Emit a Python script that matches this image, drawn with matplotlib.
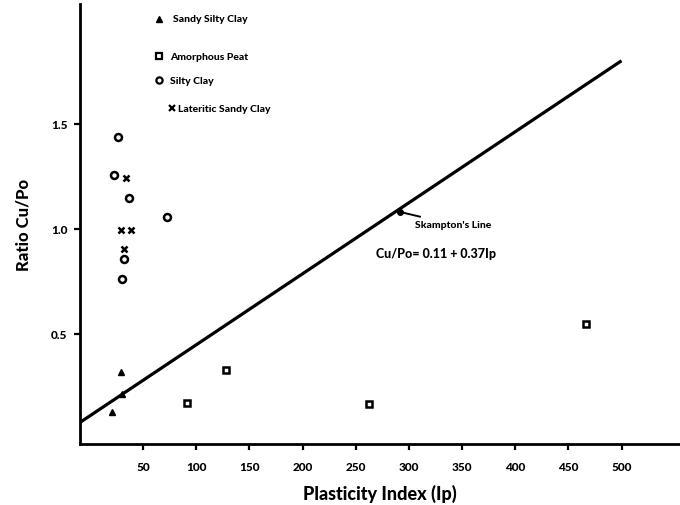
import matplotlib
matplotlib.use("Agg")
import matplotlib.pyplot as plt

plt.rcParams['font.family'] = ['Lato', 'DejaVu Sans']
plt.rcParams['font.weight'] = 'heavy'

# ---- data ----
sandy_silty_clay_ip = [29, 30, 21]
sandy_silty_clay_r = [0.318, 0.214, 0.127]

amorphous_peat_ip = [91, 128, 262, 467]
amorphous_peat_r = [0.17, 0.33, 0.167, 0.548]

silty_clay_ip = [26, 23, 37, 72, 32, 30]
silty_clay_r = [1.435, 1.254, 1.146, 1.056, 0.857, 0.762]

lateritic_ip = [34, 29, 39, 32]
lateritic_r = [1.24, 0.995, 0.995, 0.905]

skempton_ip = [-9, 500]
skempton_r = [0.08, 1.80]
skempton_point = (292, 1.08)

x_ticks = [50, 100, 150, 200, 250, 300, 350, 400, 450, 500]
y_ticks = [0.5, 1.0, 1.5]
y_tick_labels = ['0.5', '1.0', '1.5']

legend_labels = ['Sandy Silty Clay', 'Amorphous Peat', 'Silty Clay', 'Lateritic Sandy Clay']

W = 'black'

# ---- figure ----
fig = plt.figure(figsize=(6.8, 5.06), dpi=100)
ax = fig.add_axes([80/680, 61/506, 600/680, 440/506])

ax.set_xlim(-9.4, 555)
ax.set_ylim(-0.024, 2.07)

ax.plot(skempton_ip, skempton_r, color='black', lw=2.3, solid_capstyle='butt')

ax.plot(sandy_silty_clay_ip, sandy_silty_clay_r, ls='none', marker='^', ms=4.5,
        color='black')
ax.plot(amorphous_peat_ip, amorphous_peat_r, ls='none', marker='s', ms=4.3,
        mfc='white', mec='black', mew=1.8)
ax.plot(silty_clay_ip, silty_clay_r, ls='none', marker='o', ms=5,
        mfc='none', mec='black', mew=1.8)
ax.plot(lateritic_ip, lateritic_r, ls='none', marker='x', ms=4.5,
        color='black', mew=1.8)

ax.plot([skempton_point[0]], [skempton_point[1]], marker='o', ms=4, color='black')
ax.annotate("Skampton's Line", xy=skempton_point, xytext=(306, 1.02),
            fontsize=7.5, fontweight=W, va='center', ha='left',
            arrowprops=dict(arrowstyle='-', color='black', lw=1.4))
ax.text(269, 0.885, "Cu/Po= 0.11 + 0.37Ip", fontsize=9, fontweight=W,
        va='center', ha='left')

for s in ['top', 'right']:
    ax.spines[s].set_visible(False)
for s in ['left', 'bottom']:
    ax.spines[s].set_linewidth(2)

ax.set_xticks(x_ticks)
ax.set_xticklabels([str(v) for v in x_ticks], fontsize=8.5, fontweight=W)
ax.set_yticks(y_ticks)
ax.set_yticklabels(y_tick_labels, fontsize=8.5, fontweight=W)
ax.tick_params(axis='x', direction='out', length=4, width=1.6, pad=8)
ax.tick_params(axis='y', direction='out', length=4, width=1.6, pad=5)

ax.set_xlabel('Plasticity Index (Ip)', fontsize=13, fontweight=W, labelpad=9)
ax.set_ylabel('Ratio Cu/Po', fontsize=12, fontweight=W, labelpad=14)

# ---- manual legend ----
leg_y = [486/506, 449/506, 425/506, 397/506]
leg_markers = [dict(marker='^', ms=5, color='black', ls='none'),
               dict(marker='s', ms=4.3, mfc='white', mec='black', mew=1.6, ls='none'),
               dict(marker='o', ms=4.5, mfc='none', mec='black', mew=1.6, ls='none'),
               dict(marker='x', ms=5, color='black', mew=1.6, ls='none')]
leg_mx = [159/680, 159/680, 159/680, 172/680]
leg_tx = [173/680, 170/680, 170/680, 178/680]
for lbl, y, mk, mx, tx in zip(legend_labels, leg_y, leg_markers, leg_mx, leg_tx):
    ax.plot([mx], [y], transform=fig.transFigure, clip_on=False, **mk)
    fig.text(tx, y, lbl, fontsize=7.5, fontweight=W, va='center', ha='left')

fig.savefig('out.png', dpi=100)
